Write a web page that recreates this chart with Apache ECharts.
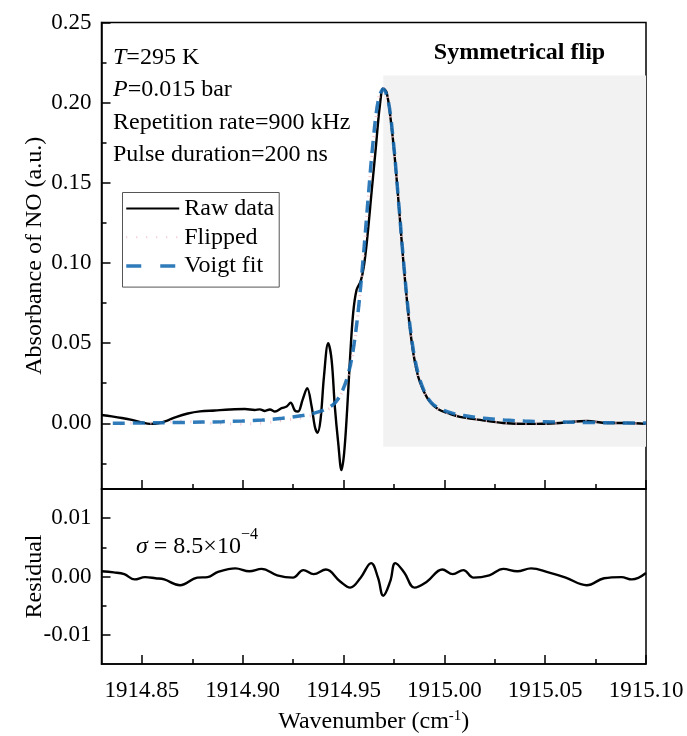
<!DOCTYPE html>
<html>
<head>
<meta charset="utf-8">
<script src="https://cdn.jsdelivr.net/npm/echarts@6/dist/echarts.min.js"></script>
<style>
  html, body { margin: 0; padding: 0; background: #fff; }
  #chart { width: 687px; height: 736px; }
</style>
</head>
<body>
<div id="chart"></div>
<script>
// Wavenumber axis ticks (cm^-1)
const wavenumberTicks = [1914.85, 1914.90, 1914.95, 1915.00, 1915.05, 1915.10];
const wavenumberMinorTicks = [1914.875, 1914.925, 1914.975, 1915.025, 1915.075];
const wavenumberRange = [1914.83, 1915.10];

// Absorbance axis ticks
const absorbanceTicks = [0, 0.05, 0.10, 0.15, 0.20, 0.25];
const absorbanceMinorTicks = [-0.025, 0.025, 0.075, 0.125, 0.175, 0.225];
const absorbanceRange = [-0.041, 0.25];

// Residual axis ticks
const residualTicks = [-0.01, 0, 0.01];
const residualMinorTicks = [-0.005, 0.005];
const residualRange = [-0.015, 0.015];

// Measured absorbance (raw data)
const rawWavenumber = [
  1914.8300, 1914.8351, 1914.8401, 1914.8450, 1914.8500, 1914.8540, 1914.8579, 1914.8619,
  1914.8669, 1914.8728, 1914.8788, 1914.8862, 1914.8936, 1914.9011, 1914.9060, 1914.9085,
  1914.9110, 1914.9135, 1914.9160, 1914.9193, 1914.9218, 1914.9238, 1914.9259, 1914.9275,
  1914.9297, 1914.9320, 1914.9342, 1914.9358, 1914.9371, 1914.9386, 1914.9403, 1914.9424,
  1914.9441, 1914.9457, 1914.9474, 1914.9490, 1914.9503, 1914.9518, 1914.9532, 1914.9548,
  1914.9565, 1914.9585, 1914.9601, 1914.9617, 1914.9639, 1914.9661, 1914.9680, 1914.9697,
  1914.9714, 1914.9734, 1914.9755, 1914.9776, 1914.9796, 1914.9821, 1914.9846, 1914.9870,
  1914.9895, 1914.9928, 1914.9970, 1915.0019, 1915.0077, 1915.0177, 1915.0291, 1915.0424,
  1915.0573, 1915.0707, 1915.0806, 1915.0906, 1915.1000
];
const rawAbsorbance = [
  0.0052, 0.0043, 0.0033, 0.0021, 0.0005, -0.0004, -0.0001, 0.0014,
  0.0039, 0.0061, 0.0074, 0.0080, 0.0086, 0.0089, 0.0083, 0.0087,
  0.0077, 0.0086, 0.0073, 0.0094, 0.0104, 0.0129, 0.0079, 0.0073,
  0.0146, 0.0219, 0.0104, -0.0021, -0.0059, 0.0021, 0.0290, 0.0500,
  0.0396, 0.0104, -0.0125, -0.0292, -0.0188, 0.0083, 0.0396, 0.0688,
  0.0833, 0.0885, 0.0979, 0.1146, 0.1438, 0.1729, 0.1979, 0.2088,
  0.2063, 0.1896, 0.1646, 0.1333, 0.1021, 0.0688, 0.0438, 0.0292,
  0.0208, 0.0135, 0.0087, 0.0063, 0.0040, 0.0021, 0.0002, -0.0004,
  0.0002, 0.0014, 0.0002, 0.0002, -0.0004
];

// Symmetrically flipped profile (high-wavenumber half mirrored about the line centre)
const flippedWavenumber = [
  1914.8394, 1914.8488, 1914.8588, 1914.8687, 1914.8821, 1914.8970, 1914.9103, 1914.9217,
  1914.9317, 1914.9375, 1914.9424, 1914.9466, 1914.9499, 1914.9524, 1914.9548, 1914.9573,
  1914.9598, 1914.9618, 1914.9639, 1914.9660, 1914.9680, 1914.9697, 1914.9714, 1914.9734,
  1914.9755, 1914.9776, 1914.9796, 1914.9821, 1914.9846, 1914.9870, 1914.9895, 1914.9928,
  1914.9970, 1915.0019, 1915.0077, 1915.0177, 1915.0291, 1915.0424, 1915.0573, 1915.0707,
  1915.0806, 1915.0906, 1915.1000
];
const flippedAbsorbance = [
  -0.0004, 0.0002, 0.0002, 0.0014, 0.0002, -0.0004, 0.0002, 0.0021,
  0.0040, 0.0063, 0.0087, 0.0135, 0.0208, 0.0292, 0.0438, 0.0688,
  0.1021, 0.1333, 0.1646, 0.1896, 0.2063, 0.2088, 0.2063, 0.1896,
  0.1646, 0.1333, 0.1021, 0.0688, 0.0438, 0.0292, 0.0208, 0.0135,
  0.0087, 0.0063, 0.0040, 0.0021, 0.0002, -0.0004, 0.0002, 0.0014,
  0.0002, 0.0002, -0.0004
];

// Voigt profile fit
const fitWavenumber = [
  1914.8356, 1914.8497, 1914.8697, 1914.8897, 1914.8997, 1914.9097, 1914.9197, 1914.9297,
  1914.9347, 1914.9397, 1914.9447, 1914.9472, 1914.9497, 1914.9522, 1914.9547, 1914.9572,
  1914.9597, 1914.9622, 1914.9647, 1914.9672, 1914.9697, 1914.9722, 1914.9747, 1914.9772,
  1914.9797, 1914.9822, 1914.9847, 1914.9872, 1914.9897, 1914.9922, 1914.9947, 1914.9997,
  1915.0047, 1915.0097, 1915.0197, 1915.0297, 1915.0397, 1915.0497, 1915.0697, 1915.0897,
  1915.1000
];
const fitAbsorbance = [
  0.0000, 0.0002, 0.0005, 0.0010, 0.0014, 0.0020, 0.0031, 0.0048,
  0.0060, 0.0080, 0.0115, 0.0150, 0.0210, 0.0300, 0.0450, 0.0690,
  0.1020, 0.1400, 0.1760, 0.2010, 0.2085, 0.2010, 0.1760, 0.1400,
  0.1020, 0.0690, 0.0450, 0.0300, 0.0210, 0.0150, 0.0115, 0.0080,
  0.0060, 0.0048, 0.0031, 0.0020, 0.0014, 0.0010, 0.0005, 0.0002,
  0.0001
];

// Fit residual
const residualWavenumber = [
  1914.8300, 1914.8361, 1914.8413, 1914.8464, 1914.8516, 1914.8568, 1914.8611, 1914.8689,
  1914.8775, 1914.8826, 1914.8878, 1914.8964, 1914.9033, 1914.9094, 1914.9171, 1914.9249,
  1914.9301, 1914.9352, 1914.9413, 1914.9482, 1914.9533, 1914.9585, 1914.9637, 1914.9671,
  1914.9697, 1914.9732, 1914.9757, 1914.9801, 1914.9852, 1914.9913, 1914.9990, 1915.0042,
  1915.0094, 1915.0145, 1915.0223, 1915.0292, 1915.0361, 1915.0430, 1915.0516, 1915.0602,
  1915.0706, 1915.0792, 1915.0878, 1915.0930, 1915.1000
];
const residualValue = [
  0.0009, 0.0007, 0.0004, -0.0005, -0.0001, -0.0003, -0.0005, -0.0015,
  -0.0002, -0.0001, 0.0008, 0.0014, 0.0009, 0.0013, 0.0002, -0.0002,
  0.0011, 0.0004, 0.0012, -0.0008, -0.0019, -0.0002, 0.0023, -0.0002,
  -0.0033, -0.0008, 0.0023, 0.0007, -0.0019, -0.0009, 0.0012, 0.0004,
  0.0011, -0.0002, 0.0002, 0.0013, 0.0009, 0.0014, 0.0007, -0.0002,
  -0.0015, -0.0003, -0.0001, -0.0005, 0.0006
];

// Region where the profile is mirrored
const flipRegionWavenumber = [1914.9697, 1915.10];
const flipRegionAbsorbance = [-0.0146, 0.217];

const zip = (xs, ys) => xs.map((x, i) => [x, ys[i]]);

const FONT = '"Liberation Serif", "Times New Roman", Times, serif';
const AXIS_COLOR = '#000';

function xAxisPair(gridIndex, withLabels) {
  const base = {
    gridIndex, type: 'value', position: 'bottom',
    min: wavenumberRange[0], max: wavenumberRange[1],
    splitLine: { show: false }, z: 10
  };
  const major = Object.assign({}, base, {
    axisLine: { show: true, onZero: false, lineStyle: { color: AXIS_COLOR, width: 1.5 } },
    axisTick: { show: true, inside: true, length: 9, customValues: wavenumberTicks,
                lineStyle: { color: AXIS_COLOR, width: 1.5 } },
    axisLabel: withLabels ? {
      show: true, customValues: wavenumberTicks, margin: 15,
      fontFamily: FONT, fontSize: 23, color: '#000',
      formatter: v => v.toFixed(2)
    } : { show: false }
  });
  if (withLabels) {
    Object.assign(major, {
      name: 'Wavenumber (cm{s|-1})',
      nameLocation: 'middle', nameGap: 45,
      nameTextStyle: {
        fontFamily: FONT, fontSize: 24, color: '#000',
        rich: { s: { fontFamily: FONT, fontSize: 15, verticalAlign: 'top', lineHeight: 26, color: '#000' } }
      }
    });
  }
  const minor = Object.assign({}, base, {
    axisLine: { show: false, onZero: false },
    axisTick: { show: true, inside: true, length: 5, customValues: wavenumberMinorTicks,
                lineStyle: { color: AXIS_COLOR, width: 1.5 } },
    axisLabel: { show: false }
  });
  return [major, minor];
}

function yAxisPair(gridIndex, range, ticks, minorTicks, name) {
  const base = {
    gridIndex, type: 'value', position: 'left',
    min: range[0], max: range[1],
    splitLine: { show: false }, z: 10
  };
  const major = Object.assign({}, base, {
    axisLine: { show: true, onZero: false, lineStyle: { color: AXIS_COLOR, width: 1.5 } },
    axisTick: { show: true, inside: true, length: 9, customValues: ticks,
                lineStyle: { color: AXIS_COLOR, width: 1.5 } },
    axisLabel: {
      show: true, customValues: ticks, margin: 10,
      fontFamily: FONT, fontSize: 23, color: '#000',
      formatter: v => (Math.abs(v) < 1e-9 ? 0 : v).toFixed(2)
    },
    name, nameLocation: 'middle', nameGap: 55, nameMoveOverlap: false,
    nameTextStyle: { fontFamily: FONT, fontSize: 24, color: '#000' }
  });
  const minor = Object.assign({}, base, {
    axisLine: { show: false, onZero: false },
    axisTick: { show: true, inside: true, length: 5, customValues: minorTicks,
                lineStyle: { color: AXIS_COLOR, width: 1.5 } },
    axisLabel: { show: false }
  });
  return [major, minor];
}

const chart = echarts.init(document.getElementById('chart'), null, { renderer: 'canvas' });

const option = {
  animation: false,
  backgroundColor: '#fff',
  textStyle: { fontFamily: FONT },
  grid: [
    { left: 101.5, right: 41, top: 22.5, height: 466.5, show: true,
      borderColor: '#000', borderWidth: 1.5, backgroundColor: 'transparent' },
    { left: 101.5, right: 41, top: 489, height: 175, show: true,
      borderColor: '#000', borderWidth: 1.5, backgroundColor: 'transparent' }
  ],
  xAxis: [...xAxisPair(0, false), ...xAxisPair(1, true)],
  yAxis: [
    ...yAxisPair(0, absorbanceRange, absorbanceTicks, absorbanceMinorTicks, 'Absorbance of NO (a.u.)'),
    ...yAxisPair(1, residualRange, residualTicks, residualMinorTicks, 'Residual')
  ],
  legend: {
    data: [
      { name: 'Raw data', lineStyle: { width: 2.2 } },
      { name: 'Flipped' },
      { name: 'Voigt fit', lineStyle: { type: [15, 19], width: 3.5 } }
    ],
    orient: 'vertical', left: 122.5, top: 192.5,
    itemWidth: 53, itemHeight: 14, itemGap: 2.8,
    padding: [3, 5, 8, 2],
    borderColor: '#555', borderWidth: 1, borderRadius: 0,
    backgroundColor: '#fff',
    itemStyle: { opacity: 0 },
    textStyle: { fontFamily: FONT, fontSize: 24, color: '#000', lineHeight: 26 },
    selectedMode: false
  },
  series: [
    {
      name: 'flip-region', type: 'line', xAxisIndex: 0, yAxisIndex: 0,
      data: [[1915.0, 0]], symbol: 'none', lineStyle: { opacity: 0 }, z: -1, silent: true,
      markArea: {
        silent: true,
        itemStyle: { color: '#f2f2f2' },
        data: [[
          { coord: [flipRegionWavenumber[0], flipRegionAbsorbance[0]] },
          { coord: [flipRegionWavenumber[1], flipRegionAbsorbance[1]] }
        ]]
      }
    },
    {
      name: 'Raw data', type: 'line', xAxisIndex: 0, yAxisIndex: 0,
      data: zip(rawWavenumber, rawAbsorbance),
      symbol: 'none', smooth: 0.35,
      lineStyle: { color: '#000', width: 2.4 }, itemStyle: { color: '#000' }, z: 3
    },
    {
      name: 'Flipped', type: 'line', xAxisIndex: 0, yAxisIndex: 0,
      data: zip(flippedWavenumber, flippedAbsorbance),
      symbol: 'none', smooth: 0.35,
      lineStyle: { color: '#f4c3cc', width: 3, type: [1, 9], cap: 'butt' },
      itemStyle: { color: '#f4c3cc' }, z: 4
    },
    {
      name: 'Voigt fit', type: 'line', xAxisIndex: 0, yAxisIndex: 0,
      data: zip(fitWavenumber, fitAbsorbance),
      symbol: 'none', smooth: 0.35,
      lineStyle: { color: '#1a6db3', width: 3.5, type: [12, 8], cap: 'butt', opacity: 0.9 },
      itemStyle: { color: '#1a6db3' }, z: 5
    },
    {
      name: 'Residual', type: 'line', xAxisIndex: 2, yAxisIndex: 2,
      data: zip(residualWavenumber, residualValue),
      symbol: 'none', smooth: 0.4,
      lineStyle: { color: '#000', width: 2.4 }, z: 3
    }
  ],
  graphic: [
    { type: 'text', x: 113, y: 58, z: 20, style: {
        text: '{i|T}=295 K', fill: '#000', fontFamily: FONT, fontSize: 24, verticalAlign: 'middle',
        rich: { i: { fontFamily: FONT, fontSize: 24, fontStyle: 'italic', fill: '#000' } } } },
    { type: 'text', x: 113, y: 90, z: 20, style: {
        text: '{i|P}=0.015 bar', fill: '#000', fontFamily: FONT, fontSize: 24, verticalAlign: 'middle',
        rich: { i: { fontFamily: FONT, fontSize: 24, fontStyle: 'italic', fill: '#000' } } } },
    { type: 'text', x: 113, y: 123, z: 20, style: {
        text: 'Repetition rate=900 kHz', fill: '#000', fontFamily: FONT, fontSize: 24, verticalAlign: 'middle' } },
    { type: 'text', x: 113, y: 155, z: 20, style: {
        text: 'Pulse duration=200 ns', fill: '#000', fontFamily: FONT, fontSize: 24, verticalAlign: 'middle' } },
    { type: 'text', x: 519.5, y: 53, z: 20, style: {
        text: 'Symmetrical flip', fill: '#000', fontFamily: FONT, fontSize: 24, fontWeight: 'bold',
        align: 'center', verticalAlign: 'middle' } },
    { type: 'text', x: 136, y: 543, z: 20, style: {
        text: '{i|σ}{n| = 8.5×10}{s|−4}', fill: '#000', fontFamily: FONT, fontSize: 24, verticalAlign: 'middle',
        rich: {
          i: { fontFamily: FONT, fontSize: 24, fontStyle: 'italic', fill: '#000', lineHeight: 32, verticalAlign: 'bottom' },
          n: { fontFamily: FONT, fontSize: 24, fill: '#000', lineHeight: 32, verticalAlign: 'bottom' },
          s: { fontFamily: FONT, fontSize: 16, fill: '#000', lineHeight: 32, verticalAlign: 'top' }
        } } }
  ]
};

chart.setOption(option);
</script>
</body>
</html>
